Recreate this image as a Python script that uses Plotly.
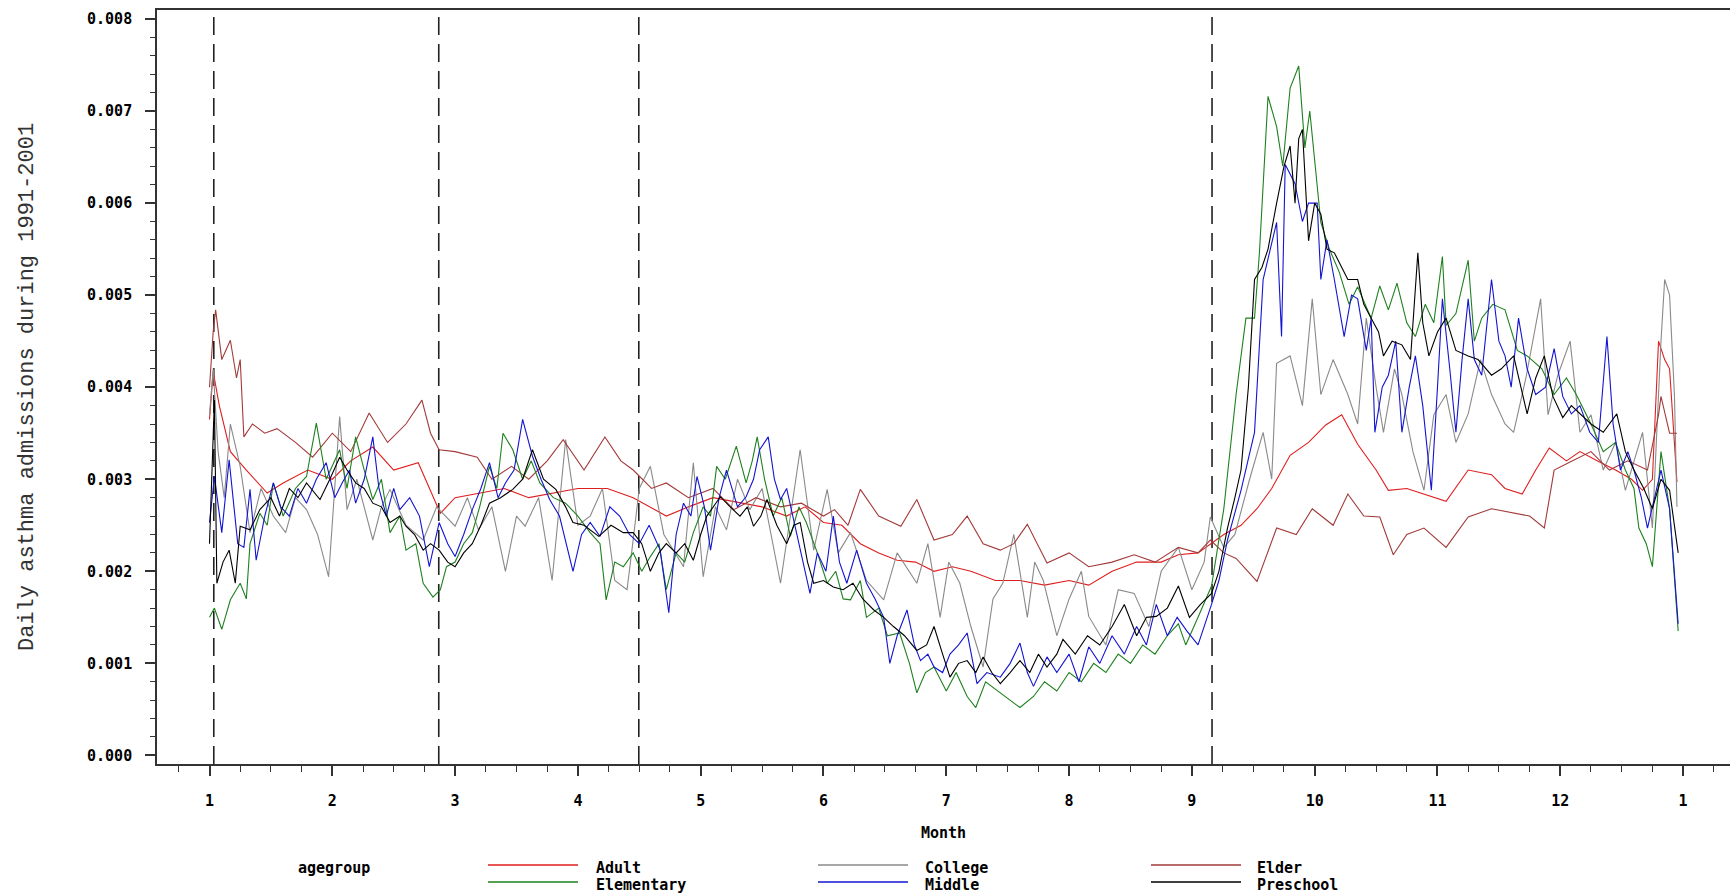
import plotly.graph_objects as go

# ---------------- data (month position, daily admission rate) ----------------
month_ticks = [1, 2, 3, 4, 5, 6, 7, 8, 9, 10, 11, 12, 13]
month_labels = ["1", "2", "3", "4", "5", "6", "7", "8", "9", "10", "11", "12", "1"]
y_ticks = [0.000, 0.001, 0.002, 0.003, 0.004, 0.005, 0.006, 0.007, 0.008]
event_months = [1.035, 2.867, 4.496, 9.164]

adult_pts = [
    (1.0, 0.00365), (1.03, 0.00417), (1.08, 0.0038), (1.17, 0.0033), (1.3, 0.0031),
    (1.47, 0.00285), (1.6, 0.00296), (1.8, 0.0031), (2.0, 0.0030), (2.15, 0.0032),
    (2.33, 0.00335), (2.5, 0.0031), (2.7, 0.00318), (2.88, 0.00263), (3.0, 0.0028),
    (3.2, 0.00285), (3.4, 0.0029), (3.6, 0.0028), (3.8, 0.00285), (4.0, 0.0029),
    (4.24, 0.0029), (4.45, 0.0028), (4.72, 0.0026), (4.9, 0.0027), (5.1, 0.0028),
    (5.3, 0.00275), (5.5, 0.0027), (5.7, 0.0026), (5.85, 0.0027), (6.0, 0.00253),
    (6.15, 0.0025), (6.3, 0.0023), (6.45, 0.0022), (6.6, 0.00212), (6.75, 0.0021),
    (6.9, 0.0020), (7.05, 0.00205), (7.2, 0.0020), (7.4, 0.0019), (7.6, 0.0019),
    (7.8, 0.00185), (8.0, 0.0019), (8.16, 0.00185), (8.35, 0.0020), (8.55, 0.0021),
    (8.75, 0.0021), (8.89, 0.00218), (9.05, 0.0022), (9.26, 0.0024), (9.4, 0.0025),
    (9.53, 0.00268), (9.65, 0.0029), (9.8, 0.00326), (9.95, 0.0034), (10.09, 0.00359),
    (10.22, 0.0037), (10.35, 0.00338), (10.5, 0.0031), (10.6, 0.00288), (10.75, 0.0029),
    (10.89, 0.00284), (11.07, 0.00276), (11.25, 0.0031), (11.44, 0.00305), (11.55, 0.0029),
    (11.69, 0.00284), (11.8, 0.0031), (11.91, 0.00334), (12.05, 0.0032), (12.16, 0.0033),
    (12.3, 0.0032), (12.45, 0.0031), (12.58, 0.0030), (12.67, 0.00288), (12.75, 0.0030),
    (12.8, 0.0045), (12.85, 0.0043), (12.89, 0.0042), (12.95, 0.00297),
]

college_pts = [
    (1.0, 0.0037), (1.03, 0.0042), (1.07, 0.0033), (1.12, 0.0028), (1.17, 0.0036),
    (1.25, 0.00314), (1.33, 0.00242), (1.42, 0.0029), (1.52, 0.0026), (1.62, 0.00242),
    (1.7, 0.0028), (1.79, 0.00267), (1.88, 0.0024), (1.97, 0.00194), (2.06, 0.00368),
    (2.12, 0.00267), (2.2, 0.0030), (2.33, 0.00234), (2.4, 0.0027), (2.47, 0.00289),
    (2.6, 0.0025), (2.74, 0.00234), (2.85, 0.0027), (3.0, 0.00249), (3.1, 0.0028),
    (3.19, 0.00245), (3.3, 0.0027), (3.41, 0.0020), (3.5, 0.0026), (3.57, 0.00249),
    (3.68, 0.0028), (3.79, 0.0019), (3.9, 0.00343), (4.0, 0.0025), (4.1, 0.0026),
    (4.2, 0.0029), (4.3, 0.0019), (4.4, 0.0018), (4.44, 0.00223), (4.5, 0.0029),
    (4.59, 0.00314), (4.7, 0.0024), (4.86, 0.00205), (4.94, 0.00318), (5.02, 0.00194),
    (5.12, 0.0027), (5.21, 0.00245), (5.3, 0.0030), (5.4, 0.00267), (5.5, 0.0029),
    (5.65, 0.00187), (5.73, 0.0026), (5.81, 0.00332), (5.92, 0.00223), (6.03, 0.00289),
    (6.12, 0.0022), (6.22, 0.00242), (6.35, 0.0019), (6.49, 0.00169), (6.6, 0.0022),
    (6.76, 0.00187), (6.85, 0.0023), (6.95, 0.0015), (7.02, 0.0021), (7.11, 0.00187),
    (7.2, 0.0014), (7.3, 0.00096), (7.38, 0.0017), (7.46, 0.00187), (7.55, 0.0024),
    (7.66, 0.0015), (7.72, 0.0021), (7.79, 0.0019), (7.9, 0.0013), (8.0, 0.0017),
    (8.1, 0.0020), (8.16, 0.00151), (8.3, 0.0012), (8.4, 0.0018), (8.53, 0.00176),
    (8.65, 0.0014), (8.75, 0.0020), (8.89, 0.00226), (9.0, 0.0018), (9.1, 0.0021),
    (9.15, 0.00259), (9.26, 0.00226), (9.35, 0.0024), (9.47, 0.0030), (9.58, 0.00351),
    (9.65, 0.0030), (9.69, 0.00426), (9.8, 0.00434), (9.9, 0.0038), (9.98, 0.00496),
    (10.05, 0.00392), (10.15, 0.0043), (10.27, 0.00392), (10.35, 0.0036), (10.42, 0.00475),
    (10.5, 0.0040), (10.56, 0.00351), (10.65, 0.0042), (10.71, 0.00392), (10.8, 0.0033),
    (10.89, 0.00288), (10.97, 0.0037), (11.07, 0.00392), (11.15, 0.0034), (11.25, 0.00371),
    (11.35, 0.0043), (11.44, 0.00392), (11.55, 0.0036), (11.62, 0.00351), (11.72, 0.0041),
    (11.84, 0.00496), (11.9, 0.0037), (11.98, 0.00413), (12.08, 0.0045), (12.16, 0.00351),
    (12.25, 0.0037), (12.35, 0.0031), (12.45, 0.0034), (12.53, 0.00288), (12.6, 0.0032),
    (12.67, 0.00351), (12.75, 0.00247), (12.82, 0.0045), (12.85, 0.00517), (12.89, 0.0050),
    (12.93, 0.0039), (12.95, 0.0027),
]

elder_pts = [
    (1.0, 0.0040), (1.03, 0.0046), (1.05, 0.00484), (1.1, 0.0043), (1.17, 0.00451),
    (1.22, 0.0041), (1.25, 0.0043), (1.28, 0.00346), (1.35, 0.0036), (1.45, 0.0035),
    (1.55, 0.00355), (1.7, 0.0034), (1.84, 0.00324), (2.0, 0.0035), (2.15, 0.0033),
    (2.3, 0.00372), (2.45, 0.0034), (2.6, 0.0036), (2.73, 0.00386), (2.8, 0.0035),
    (2.87, 0.00332), (3.0, 0.0033), (3.18, 0.00324), (3.3, 0.0030), (3.46, 0.00314),
    (3.6, 0.0030), (3.75, 0.0032), (3.88, 0.00343), (4.05, 0.0031), (4.22, 0.00346),
    (4.35, 0.0032), (4.45, 0.0031), (4.6, 0.0029), (4.72, 0.00296), (4.9, 0.0028),
    (5.1, 0.0029), (5.27, 0.00267), (5.45, 0.0028), (5.65, 0.0027), (5.82, 0.00274),
    (6.0, 0.0026), (6.09, 0.00267), (6.2, 0.0025), (6.3, 0.00289), (6.45, 0.0026),
    (6.63, 0.00249), (6.76, 0.00278), (6.9, 0.00234), (7.05, 0.0024), (7.17, 0.0026),
    (7.3, 0.0023), (7.44, 0.00223), (7.55, 0.0023), (7.66, 0.00251), (7.82, 0.00209),
    (8.0, 0.0022), (8.16, 0.00205), (8.35, 0.0021), (8.53, 0.00218), (8.7, 0.0021),
    (8.89, 0.00226), (9.05, 0.0022), (9.15, 0.00234), (9.26, 0.0022), (9.36, 0.00214),
    (9.53, 0.00189), (9.69, 0.00247), (9.85, 0.0024), (9.98, 0.00268), (10.15, 0.0025),
    (10.27, 0.00284), (10.4, 0.0026), (10.53, 0.00259), (10.64, 0.00218), (10.75, 0.0024),
    (10.89, 0.00247), (11.07, 0.00226), (11.25, 0.00259), (11.44, 0.00268), (11.62, 0.00263),
    (11.75, 0.0026), (11.87, 0.00247), (11.95, 0.0031), (12.1, 0.0032), (12.25, 0.0033),
    (12.4, 0.0031), (12.55, 0.0032), (12.71, 0.0031), (12.8, 0.0037), (12.82, 0.0039),
    (12.89, 0.0035), (12.95, 0.0035),
]

elementary_pts = [
    (1.0, 0.0015), (1.04, 0.0016), (1.1, 0.00137), (1.17, 0.00169), (1.25, 0.00187),
    (1.3, 0.0017), (1.33, 0.0023), (1.41, 0.00263), (1.47, 0.0025), (1.52, 0.00296),
    (1.6, 0.0026), (1.7, 0.0029), (1.79, 0.00303), (1.87, 0.00361), (1.95, 0.0030),
    (2.06, 0.00332), (2.12, 0.0029), (2.19, 0.00346), (2.26, 0.0031), (2.33, 0.00278),
    (2.4, 0.0030), (2.47, 0.00242), (2.55, 0.0026), (2.6, 0.00223), (2.68, 0.0023),
    (2.74, 0.00187), (2.82, 0.00172), (2.88, 0.0018), (2.93, 0.00205), (3.0, 0.0021),
    (3.07, 0.0023), (3.14, 0.00242), (3.2, 0.0027), (3.28, 0.00314), (3.34, 0.0029),
    (3.39, 0.0035), (3.47, 0.00332), (3.55, 0.0030), (3.62, 0.0032), (3.69, 0.00296),
    (3.8, 0.0028), (3.9, 0.00274), (4.0, 0.0026), (4.1, 0.00242), (4.18, 0.0023),
    (4.23, 0.00169), (4.3, 0.0021), (4.37, 0.00205), (4.45, 0.0022), (4.52, 0.0020),
    (4.59, 0.00216), (4.66, 0.0023), (4.72, 0.0018), (4.8, 0.0022), (4.87, 0.0021),
    (4.94, 0.00242), (5.02, 0.0027), (5.08, 0.0026), (5.13, 0.00314), (5.2, 0.0030),
    (5.29, 0.00336), (5.37, 0.00296), (5.42, 0.0032), (5.46, 0.00346), (5.52, 0.0030),
    (5.59, 0.0026), (5.66, 0.0028), (5.73, 0.00238), (5.8, 0.0027), (5.86, 0.00253),
    (5.95, 0.0022), (6.03, 0.00187), (6.1, 0.0020), (6.16, 0.0017), (6.22, 0.00169),
    (6.3, 0.0019), (6.35, 0.0015), (6.45, 0.0016), (6.52, 0.0013), (6.62, 0.00133),
    (6.7, 0.0010), (6.76, 0.00068), (6.83, 0.0009), (6.9, 0.00096), (7.0, 0.0007),
    (7.08, 0.0009), (7.17, 0.00064), (7.24, 0.00052), (7.32, 0.0008), (7.44, 0.00068),
    (7.52, 0.0006), (7.6, 0.00052), (7.71, 0.00064), (7.8, 0.0008), (7.9, 0.0007),
    (8.0, 0.0009), (8.1, 0.0008), (8.2, 0.0010), (8.3, 0.0009), (8.4, 0.0011),
    (8.5, 0.0010), (8.6, 0.0012), (8.7, 0.0011), (8.8, 0.0013), (8.89, 0.00143),
    (8.95, 0.0012), (9.05, 0.0015), (9.16, 0.00184), (9.26, 0.00268), (9.36, 0.00392),
    (9.44, 0.00475), (9.51, 0.00475), (9.55, 0.00546), (9.62, 0.00716), (9.69, 0.00683),
    (9.74, 0.0064), (9.8, 0.00725), (9.87, 0.00749), (9.92, 0.0066), (9.96, 0.0070),
    (10.05, 0.00579), (10.12, 0.0055), (10.2, 0.00525), (10.28, 0.0049), (10.35, 0.00509),
    (10.46, 0.00475), (10.53, 0.0051), (10.6, 0.00484), (10.67, 0.00513), (10.75, 0.0047),
    (10.82, 0.00455), (10.9, 0.0049), (10.97, 0.0047), (11.04, 0.00542), (11.07, 0.00467),
    (11.15, 0.0048), (11.25, 0.00538), (11.3, 0.0045), (11.36, 0.00475), (11.45, 0.0049),
    (11.55, 0.00484), (11.65, 0.0044), (11.73, 0.00434), (11.85, 0.0042), (11.95, 0.00392),
    (12.05, 0.0041), (12.13, 0.00392), (12.25, 0.0036), (12.35, 0.0033), (12.45, 0.0034),
    (12.53, 0.0031), (12.6, 0.0029), (12.64, 0.00247), (12.7, 0.0023), (12.75, 0.00205),
    (12.82, 0.0033), (12.89, 0.00268), (12.96, 0.00135),
]

middle_pts = [
    (1.0, 0.00253), (1.04, 0.00303), (1.1, 0.00242), (1.16, 0.00321), (1.23, 0.0023),
    (1.28, 0.00226), (1.33, 0.00289), (1.38, 0.00212), (1.45, 0.0026), (1.52, 0.00296),
    (1.58, 0.0027), (1.65, 0.0026), (1.72, 0.0029), (1.79, 0.00274), (1.87, 0.0030),
    (1.95, 0.00318), (2.02, 0.0028), (2.08, 0.00296), (2.14, 0.0031), (2.19, 0.00274),
    (2.26, 0.0030), (2.33, 0.00346), (2.38, 0.0029), (2.44, 0.0026), (2.5, 0.0029),
    (2.55, 0.00267), (2.63, 0.0028), (2.71, 0.0026), (2.79, 0.00205), (2.87, 0.00253),
    (2.94, 0.0023), (3.0, 0.00216), (3.07, 0.0024), (3.14, 0.00267), (3.21, 0.0029),
    (3.28, 0.00318), (3.35, 0.0028), (3.41, 0.00296), (3.48, 0.0031), (3.55, 0.00365),
    (3.63, 0.00325), (3.7, 0.0030), (3.77, 0.00278), (3.85, 0.0026), (3.96, 0.0020),
    (4.03, 0.0024), (4.1, 0.00253), (4.18, 0.00238), (4.26, 0.0027), (4.34, 0.0026),
    (4.42, 0.0024), (4.5, 0.0023), (4.58, 0.0025), (4.67, 0.00223), (4.74, 0.00155),
    (4.8, 0.0024), (4.86, 0.00274), (4.92, 0.0026), (4.97, 0.00303), (5.03, 0.0027),
    (5.08, 0.00223), (5.15, 0.0028), (5.21, 0.0031), (5.3, 0.0027), (5.37, 0.00281),
    (5.43, 0.0030), (5.48, 0.00332), (5.55, 0.00346), (5.6, 0.0030), (5.65, 0.00278),
    (5.7, 0.0029), (5.75, 0.0026), (5.84, 0.00205), (5.89, 0.00176), (5.95, 0.0022),
    (6.02, 0.0020), (6.08, 0.0026), (6.13, 0.0021), (6.19, 0.00187), (6.27, 0.00223),
    (6.35, 0.00187), (6.42, 0.0017), (6.49, 0.0015), (6.54, 0.0010), (6.6, 0.0013),
    (6.68, 0.00158), (6.74, 0.0012), (6.79, 0.00103), (6.85, 0.0011), (6.9, 0.00096),
    (6.97, 0.0009), (7.03, 0.0011), (7.1, 0.0012), (7.17, 0.00133), (7.25, 0.00078),
    (7.33, 0.0009), (7.44, 0.00085), (7.52, 0.0010), (7.6, 0.00122), (7.66, 0.0009),
    (7.71, 0.00075), (7.82, 0.00107), (7.9, 0.0009), (8.0, 0.0011), (8.08, 0.0008),
    (8.16, 0.00118), (8.25, 0.0010), (8.35, 0.0013), (8.45, 0.0011), (8.55, 0.0014),
    (8.63, 0.0012), (8.71, 0.00164), (8.8, 0.0013), (8.88, 0.0015), (8.96, 0.00135),
    (9.05, 0.0012), (9.16, 0.00164), (9.22, 0.0019), (9.29, 0.00234), (9.4, 0.00288),
    (9.51, 0.00351), (9.58, 0.00517), (9.69, 0.00579), (9.73, 0.00455), (9.76, 0.00642),
    (9.84, 0.00621), (9.9, 0.0058), (9.95, 0.0060), (10.02, 0.0060), (10.05, 0.00517),
    (10.1, 0.0056), (10.16, 0.00517), (10.24, 0.00455), (10.3, 0.0050), (10.35, 0.00496),
    (10.42, 0.0044), (10.46, 0.00475), (10.49, 0.00351), (10.55, 0.0040), (10.6, 0.00413),
    (10.66, 0.0045), (10.71, 0.00351), (10.77, 0.0040), (10.82, 0.00434), (10.88, 0.0038),
    (10.95, 0.00288), (11.0, 0.0040), (11.04, 0.00496), (11.1, 0.0042), (11.15, 0.00351),
    (11.2, 0.0043), (11.25, 0.00496), (11.3, 0.0043), (11.36, 0.00413), (11.44, 0.00517),
    (11.5, 0.0045), (11.55, 0.00434), (11.6, 0.0040), (11.66, 0.00475), (11.73, 0.0042),
    (11.8, 0.00392), (11.88, 0.0040), (11.95, 0.00442), (12.02, 0.0039), (12.09, 0.00371),
    (12.16, 0.0038), (12.24, 0.00351), (12.31, 0.0034), (12.38, 0.00455), (12.43, 0.0036),
    (12.49, 0.0031), (12.55, 0.0033), (12.6, 0.0031), (12.66, 0.0028), (12.71, 0.00247),
    (12.77, 0.0028), (12.82, 0.0031), (12.89, 0.00268), (12.93, 0.0020), (12.96, 0.00143),
]

preschool_pts = [
    (1.0, 0.0023), (1.04, 0.00386), (1.06, 0.00187), (1.11, 0.0021), (1.16, 0.00223),
    (1.21, 0.00187), (1.25, 0.00249), (1.33, 0.00245), (1.41, 0.00267), (1.5, 0.0028),
    (1.57, 0.0026), (1.65, 0.0029), (1.72, 0.0028), (1.79, 0.00296), (1.9, 0.00278),
    (1.98, 0.0030), (2.06, 0.00324), (2.12, 0.0031), (2.19, 0.00296), (2.26, 0.0029),
    (2.33, 0.00274), (2.4, 0.0027), (2.47, 0.00253), (2.55, 0.0026), (2.6, 0.00249),
    (2.67, 0.0024), (2.74, 0.00223), (2.8, 0.0023), (2.87, 0.00223), (2.94, 0.0021),
    (3.0, 0.00205), (3.07, 0.0022), (3.14, 0.0023), (3.21, 0.0025), (3.28, 0.00274),
    (3.37, 0.0028), (3.47, 0.00289), (3.55, 0.0030), (3.63, 0.00332), (3.72, 0.0030),
    (3.82, 0.00289), (3.9, 0.0027), (3.96, 0.00253), (4.05, 0.0025), (4.17, 0.00238),
    (4.27, 0.0025), (4.37, 0.00242), (4.45, 0.00242), (4.52, 0.0023), (4.59, 0.0020),
    (4.66, 0.0022), (4.72, 0.0023), (4.8, 0.0022), (4.87, 0.0023), (4.94, 0.00212),
    (5.0, 0.0024), (5.05, 0.0026), (5.1, 0.0027), (5.16, 0.00281), (5.24, 0.0027),
    (5.32, 0.0026), (5.38, 0.0027), (5.43, 0.00249), (5.49, 0.0026), (5.54, 0.00278),
    (5.62, 0.0025), (5.7, 0.0023), (5.76, 0.0025), (5.81, 0.00253), (5.87, 0.0021),
    (5.92, 0.00187), (6.0, 0.0019), (6.08, 0.00183), (6.16, 0.0018), (6.24, 0.00187),
    (6.32, 0.0017), (6.41, 0.00158), (6.49, 0.0015), (6.57, 0.0014), (6.66, 0.0013),
    (6.76, 0.00114), (6.84, 0.0012), (6.9, 0.0014), (6.97, 0.0011), (7.03, 0.00085),
    (7.1, 0.0010), (7.17, 0.00103), (7.24, 0.0009), (7.3, 0.00107), (7.37, 0.0009),
    (7.44, 0.00078), (7.52, 0.0009), (7.6, 0.00103), (7.68, 0.0009), (7.75, 0.0011),
    (7.82, 0.00096), (7.9, 0.0011), (7.95, 0.00126), (8.05, 0.0011), (8.15, 0.0013),
    (8.25, 0.0012), (8.35, 0.0014), (8.45, 0.00164), (8.55, 0.0013), (8.63, 0.0015),
    (8.71, 0.00151), (8.8, 0.0016), (8.89, 0.00184), (8.98, 0.0015), (9.07, 0.00164),
    (9.16, 0.00176), (9.22, 0.0020), (9.29, 0.00247), (9.35, 0.0028), (9.4, 0.0031),
    (9.46, 0.0040), (9.51, 0.00517), (9.57, 0.0053), (9.62, 0.0055), (9.69, 0.0060),
    (9.75, 0.0064), (9.8, 0.00662), (9.84, 0.0060), (9.87, 0.0067), (9.9, 0.0068),
    (9.95, 0.00559), (10.0, 0.0060), (10.05, 0.00588), (10.1, 0.0055), (10.16, 0.00546),
    (10.22, 0.0053), (10.27, 0.00517), (10.35, 0.00517), (10.4, 0.0049), (10.46, 0.00475),
    (10.52, 0.0046), (10.56, 0.00434), (10.63, 0.0045), (10.71, 0.00446), (10.78, 0.0043),
    (10.84, 0.00546), (10.88, 0.0047), (10.93, 0.00434), (11.0, 0.0046), (11.07, 0.00475),
    (11.15, 0.0044), (11.25, 0.00434), (11.33, 0.0043), (11.44, 0.00413), (11.52, 0.0042),
    (11.62, 0.00434), (11.68, 0.0040), (11.73, 0.00371), (11.8, 0.0041), (11.87, 0.00434),
    (11.94, 0.0039), (12.02, 0.00367), (12.09, 0.0038), (12.16, 0.00371), (12.25, 0.0036),
    (12.35, 0.00351), (12.4, 0.0036), (12.46, 0.00371), (12.53, 0.0033), (12.6, 0.0031),
    (12.68, 0.0029), (12.75, 0.00268), (12.82, 0.0030), (12.89, 0.00288), (12.96, 0.0022),
]

groups = ["Adult", "College", "Elder", "Elementary", "Middle", "Preschool"]
group_points = [adult_pts, college_pts, elder_pts, elementary_pts, middle_pts, preschool_pts]
group_colors = ["#e01e1e", "#8a8a8a", "#a33a3a", "#1e801e", "#1414d2", "#000000"]

# ---------------- layout geometry (pixels) ----------------
W, H = 1730, 895
L, R, T, B = 157, 1730, 10, 764


def px_x(p):
    return (p - L) / (R - L)


def px_y(p):
    return (B - p) / (B - T)


fig = go.Figure()
for name, pts, col in zip(groups, group_points, group_colors):
    fig.add_trace(go.Scatter(
        x=[p[0] for p in pts], y=[p[1] for p in pts], mode="lines", name=name,
        line=dict(color=col, width=1.1), showlegend=False,
    ))

for m in event_months:
    fig.add_shape(type="line", xref="x", yref="paper", x0=m, x1=m, y0=0, y1=1,
                  line=dict(color="#222222", width=1.6, dash="18px,9px"), layer="below")

tick_font = dict(family="DejaVu Sans Mono", size=15, color="#000000", weight="bold")
axis_col = "#333333"

fig.update_layout(
    width=W, height=H,
    margin=dict(l=L, r=W - R, t=T, b=H - B, pad=0),
    paper_bgcolor="white", plot_bgcolor="white",
    showlegend=False,
    xaxis=dict(
        range=[0.5725, 13.382], tickvals=month_ticks, ticktext=month_labels,
        ticks="outside", ticklen=10, tickwidth=1.5, tickcolor=axis_col,
        showline=True, linecolor=axis_col, linewidth=1.6, mirror=True,
        showgrid=False, zeroline=False, tickfont=tick_font, ticklabelstandoff=12,
        minor=dict(dtick=0.25, tick0=1, ticks="outside", ticklen=6, tickwidth=1.3,
                   tickcolor=axis_col, showgrid=False),
    ),
    yaxis=dict(
        range=[-0.0000934, 0.0080977], tickvals=y_ticks, tickformat=".3f",
        ticks="outside", ticklen=10, tickwidth=1.5, tickcolor=axis_col,
        showline=True, linecolor=axis_col, linewidth=1.6, mirror=False,
        showgrid=False, zeroline=False, tickfont=tick_font, ticklabelstandoff=10,
        minor=dict(dtick=0.0002, tick0=0, ticks="outside", ticklen=5, tickwidth=1.3,
                   tickcolor=axis_col, showgrid=False),
    ),
)

label_font = dict(family="DejaVu Sans Mono", size=15, color="#000000", weight="bold")

# axis titles
fig.add_annotation(text="Month", xref="paper", yref="paper", x=px_x(943), y=px_y(833),
                   xanchor="center", yanchor="middle", showarrow=False, font=label_font)
fig.add_annotation(text="Daily asthma admissions during 1991-2001", xref="paper", yref="paper",
                   x=px_x(27), y=px_y(387), xanchor="center", yanchor="middle", textangle=-90,
                   showarrow=False,
                   font=dict(family="Liberation Mono", size=22, color="#333333"))

# legend (drawn manually: title + 3 columns x 2 rows)
fig.add_annotation(text="agegroup", xref="paper", yref="paper", x=px_x(296), y=px_y(868),
                   xanchor="left", yanchor="middle", showarrow=False, font=label_font)
col_line_x = [(488, 578), (818, 908), (1151, 1241)]
col_text_x = [594, 923, 1255]
row_line_y = [865, 882]
row_text_y = [868, 885]
for i, (name, col) in enumerate(zip(groups, group_colors)):
    c, r = i % 3, i // 3
    x0, x1 = col_line_x[c]
    fig.add_shape(type="line", xref="paper", yref="paper",
                  x0=px_x(x0), x1=px_x(x1), y0=px_y(row_line_y[r]), y1=px_y(row_line_y[r]),
                  line=dict(color=col, width=1.3))
    fig.add_annotation(text=name, xref="paper", yref="paper", x=px_x(col_text_x[c]),
                       y=px_y(row_text_y[r]), xanchor="left", yanchor="middle",
                       showarrow=False, font=label_font)

fig.write_html(
    "out.html",
    config={"displayModeBar": False},
    post_script="document.body.style.margin='0';document.body.style.overflow='hidden';",
)
